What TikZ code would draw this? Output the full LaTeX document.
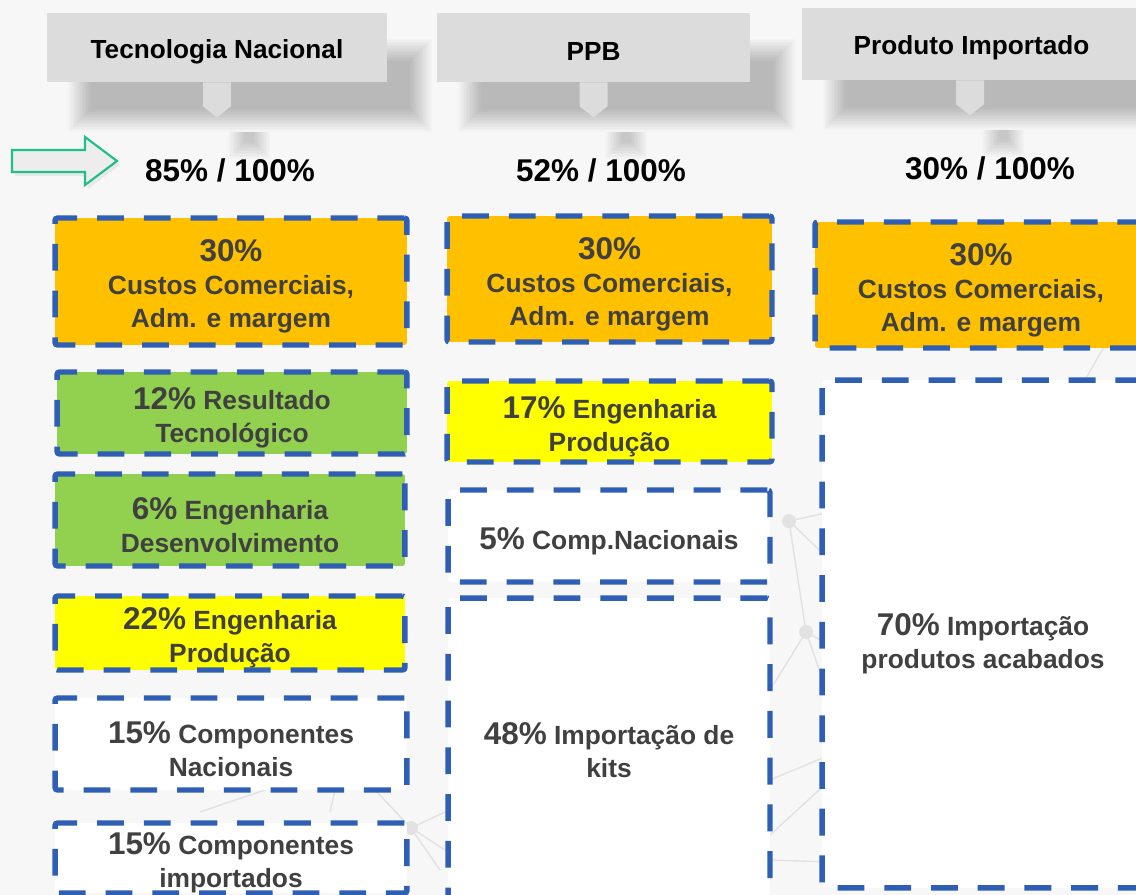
\documentclass[tikz,border=0pt]{standalone}
\usepackage{fontspec}
\setmainfont{Liberation Sans}
\definecolor{bg}{HTML}{F7F7F7}
\definecolor{hdrgray}{HTML}{DCDCDC}
\definecolor{dblue}{HTML}{2F5FB5}
\definecolor{orangeF}{HTML}{FFC000}
\definecolor{greenF}{HTML}{92D050}
\definecolor{yellowF}{HTML}{FFFF00}
\definecolor{txt}{HTML}{404040}
\definecolor{arrowgreen}{HTML}{1FBF8C}
\definecolor{arrowfill}{HTML}{EDEDED}
\definecolor{netgray}{HTML}{E2E2E2}
\newcommand\bigpctfont{\fontsize{17.9}{18.7}\selectfont}
\newcommand\lblfont{\fontsize{15}{18.7}\selectfont}
% blurred shadow of a header callout: x1 y1 x2 y2 pointer-x
\newcommand\hdrshadow[5]{%
  \begin{scope}[shift={(33,38)}]
    \foreach \k in {0,...,15}{
      \fill[black,opacity=0.017] ({#1-12+1.5*\k},{#2-12+1.5*\k}) rectangle ({#3+12-1.5*\k},{#4+12-1.5*\k});
    }
    \foreach \k in {0,...,11}{
      \fill[black,opacity=0.016] ({#5-12-9+1.5*\k},{#4+12}) rectangle ({#5+12+9-1.5*\k},{#4+30+9-1.5*\k});
    }
  \end{scope}}
% dashed box with its text
\newcommand\cbox[7]{%
  \node[dbox, fill=#6, minimum width=#4, minimum height=#5] (#1) at (#2,#3) {};
  \node[boxtext] (#1t) at ([yshift=-0.1cm]#1.center) {#7};}
\tikzset{
  dbox/.style={draw=dblue, line width=3.1pt, dash pattern=on 15.3pt off 11.3pt,
    rounded corners=1.5pt, inner sep=0pt},
  hdr/.style={fill=hdrgray, inner sep=0pt},
  hdrtext/.style={font=\bfseries\fontsize{14.9}{18}\selectfont, text=black, inner sep=0pt},
  tot/.style={font=\bfseries\fontsize{17.9}{20}\selectfont, text=black, inner sep=0pt},
  boxtext/.style={align=center, text=txt, font=\bfseries\lblfont, inner sep=0pt},
  net/.style={draw=netgray, line width=0.8pt},
  netdot/.style={fill=netgray},
}
\begin{document}
\begin{tikzpicture}[x=0.02cm, y=-0.02cm]
\useasboundingbox (0,0) rectangle (1136,895);
\clip (0,0) rectangle (1136,895);
\fill[bg] (0,0) rectangle (1136,895);

% faint background network
\draw[net] (789,521) -- (830,512);
\draw[net] (789,521) -- (830,560);
\draw[net] (789,521) -- (806,632);
\draw[net] (806,632) -- (770,690);
\draw[net] (806,632) -- (830,645);
\draw[net] (806,632) -- (830,700);
\draw[net] (770,780) -- (830,755);
\draw[net] (770,835) -- (830,780);
\draw[net] (770,860) -- (830,862);
\draw[net] (411,828) -- (445,812);
\draw[net] (411,828) -- (445,850);
\draw[net] (411,828) -- (375,790);
\draw[net] (411,828) -- (440,870);
\draw[net] (200,812) -- (265,790);
\draw[net] (330,812) -- (335,790);
\draw[net] (1085,380) -- (1105,345);
\fill[netdot] (789,521) circle (7);
\fill[netdot] (806,632) circle (7);
\fill[netdot] (411,828) circle (7);

% header shadows
\hdrshadow{47}{13}{387}{82}{216}
\hdrshadow{437}{13}{750}{82}{593}
\hdrshadow{802}{8}{1141}{80}{970}

% headers
\node[hdr, minimum width=6.8cm, minimum height=1.38cm] (h1) at (217,47.5) {};
\node[hdr, minimum width=6.26cm, minimum height=1.38cm] (h2) at (593.5,47.5) {};
\node[hdr, minimum width=6.78cm, minimum height=1.44cm] (h3) at (971.5,44) {};
\node[hdrtext] (h1t) at ([yshift=-0.08cm]h1.center) {Tecnologia Nacional};
\node[hdrtext] (h2t) at ([yshift=-0.08cm]h2.center) {PPB};
\node[hdrtext] (h3t) at ([yshift=-0.08cm]h3.center) {Produto Importado};
\fill[hdrgray] ([xshift=-0.28cm]h1.south) -- ++(0.56cm,0) -- ++(0,-0.48cm) -- ++(-0.28cm,-0.22cm) -- ++(-0.28cm,0.22cm) -- cycle;
\fill[hdrgray] ([xshift=-0.28cm]h2.south) -- ++(0.56cm,0) -- ++(0,-0.48cm) -- ++(-0.28cm,-0.22cm) -- ++(-0.28cm,0.22cm) -- cycle;
\fill[hdrgray] ([xshift=-0.31cm]h3.south) -- ++(0.56cm,0) -- ++(0,-0.48cm) -- ++(-0.28cm,-0.22cm) -- ++(-0.28cm,0.22cm) -- cycle;

% totals
\node[tot] (t1) at (230,170) {85\% / 100\%};
\node[tot] (t2) at (601,170) {52\% / 100\%};
\node[tot] (t3) at (990,168) {30\% / 100\%};

% green outline arrow
\fill[black,opacity=0.06] (15,154) -- (88,154) -- (88,141) -- (120,165) -- (88,189) -- (88,176) -- (15,176) -- cycle;
\draw[arrowgreen, fill=arrowfill, line width=1.2pt, line join=miter]
  (12,150) -- (85,150) -- (85,137) -- (117,161) -- (85,185) -- (85,172) -- (12,172) -- cycle;

% column 1
\cbox{c1a}{231}{281.5}{7.04cm}{2.54cm}{orangeF}{{\bigpctfont 30\%}\\Custos Comerciais,\\Adm. e margem}
\cbox{c1b}{232}{413}{7.0cm}{1.64cm}{greenF}{{\bigpctfont 12\%} Resultado\\Tecnológico}
\cbox{c1c}{230}{520}{7.0cm}{1.84cm}{greenF}{{\bigpctfont 6\%} Engenharia\\Desenvolvimento}
\cbox{c1d}{230}{633}{7.0cm}{1.48cm}{yellowF}{{\bigpctfont 22\%} Engenharia\\Produção}
\cbox{c1e}{231}{744}{7.04cm}{1.84cm}{white}{{\bigpctfont 15\%} Componentes\\Nacionais}
\cbox{c1f}{231}{858}{7.04cm}{1.4cm}{white}{{\bigpctfont 15\%} Componentes\\importados}

% column 2
\cbox{c2a}{609.5}{279}{6.5cm}{2.52cm}{orangeF}{{\bigpctfont 30\%}\\Custos Comerciais,\\Adm. e margem}
\cbox{c2b}{609.5}{421.5}{6.5cm}{1.62cm}{yellowF}{{\bigpctfont 17\%} Engenharia\\Produção}
\cbox{c2c}{609}{536}{6.44cm}{1.84cm}{white}{{\bigpctfont 5\%} Comp.Nacionais}
\node[dbox, fill=white, minimum width=6.44cm, minimum height=6.24cm] (c2d) at (609,754) {};
\node[boxtext] (c2dt) at (609,750) {{\bigpctfont 48\%} Importação de\\kits};

% column 3
\cbox{c3a}{981}{285}{6.64cm}{2.52cm}{orangeF}{{\bigpctfont 30\%}\\Custos Comerciais,\\Adm. e margem}
\node[dbox, fill=white, minimum width=6.46cm, minimum height=10.16cm] (c3b) at (983.5,634) {};
\node[boxtext] (c3bt) at (983,644) {{\bigpctfont 70\%} Importação\\produtos acabados};
\end{tikzpicture}
\end{document}
